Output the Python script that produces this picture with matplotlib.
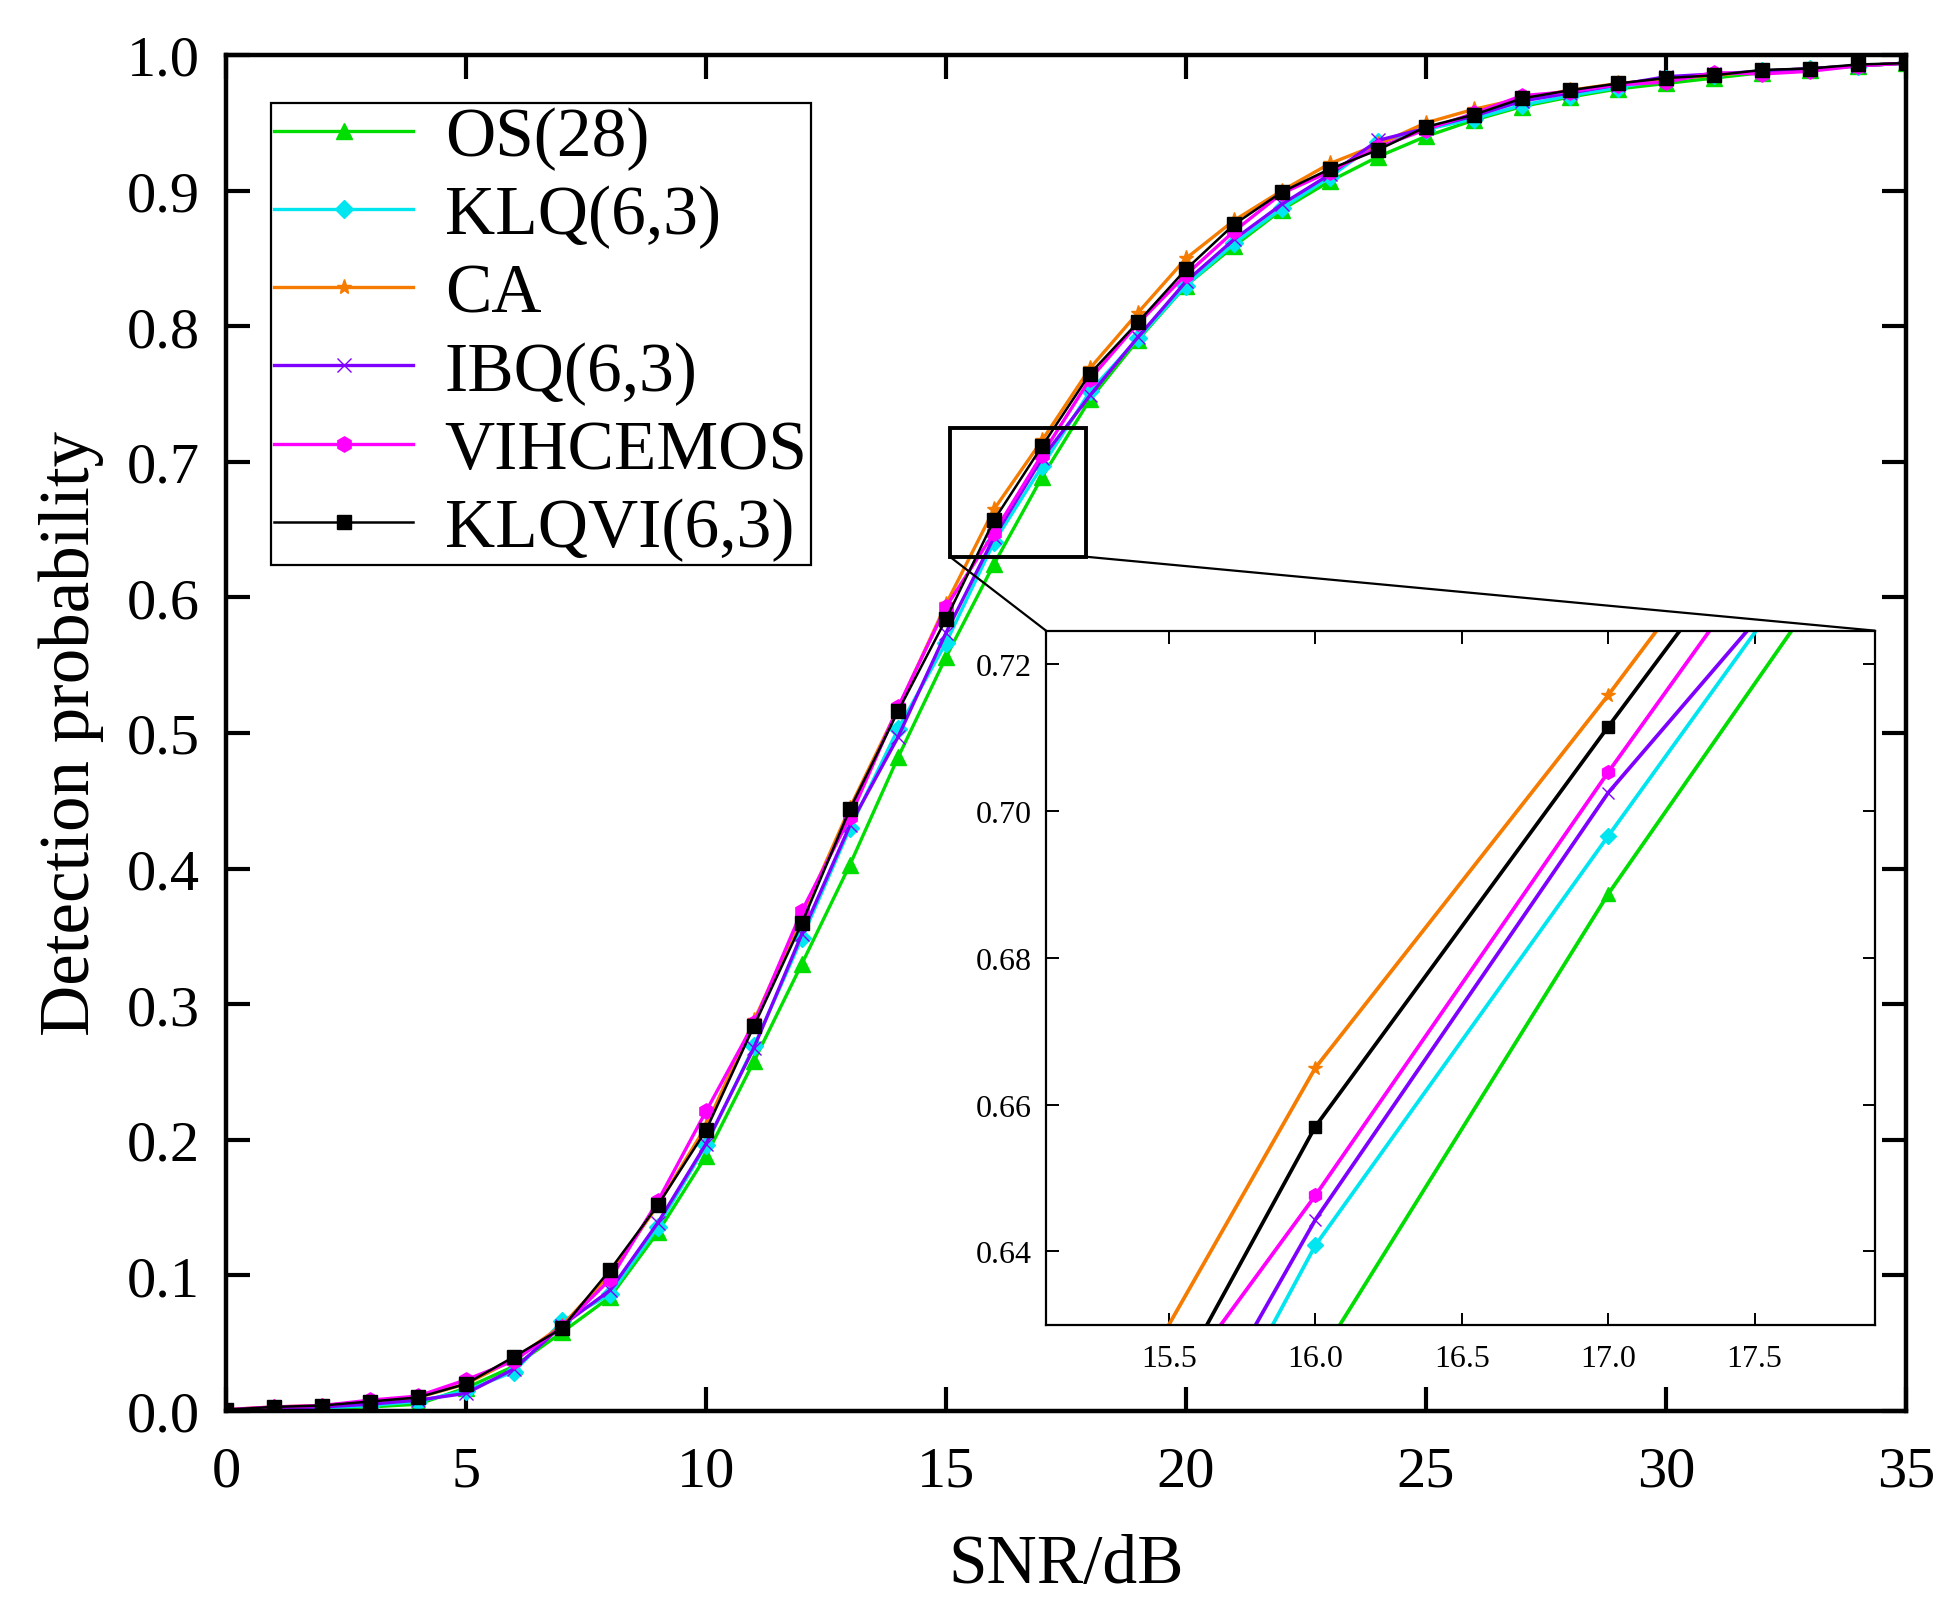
import matplotlib
matplotlib.use("Agg")
import matplotlib.pyplot as plt
from matplotlib.patches import Rectangle, ConnectionPatch
import numpy as np

plt.rcParams["font.family"] = ["Liberation Serif", "DejaVu Serif"]

# SNR points (dB)
snr = list(range(0, 36))

os28 = [0.0, 0.001, 0.002, 0.003, 0.005, 0.017, 0.033, 0.058, 0.084, 0.132,
        0.188, 0.258, 0.330, 0.403, 0.482, 0.556, 0.6246, 0.6887, 0.746, 0.790,
        0.830, 0.859, 0.886, 0.907, 0.925, 0.940, 0.952, 0.962, 0.969, 0.975,
        0.979, 0.983, 0.987, 0.989, 0.992, 0.994]
klq = [0.0, 0.001, 0.002, 0.004, 0.007, 0.015, 0.029, 0.066, 0.086, 0.136,
       0.196, 0.269, 0.349, 0.430, 0.503, 0.5665, 0.6408, 0.6966, 0.752, 0.791,
       0.830, 0.861, 0.887, 0.910, 0.936, 0.945, 0.953, 0.963, 0.970, 0.976,
       0.982, 0.985, 0.988, 0.990, 0.992, 0.994]
ca = [0.001, 0.003, 0.004, 0.007, 0.010, 0.020, 0.038, 0.063, 0.101, 0.152,
      0.210, 0.288, 0.365, 0.445, 0.518, 0.595, 0.665, 0.7158, 0.769, 0.810,
      0.850, 0.878, 0.900, 0.920, 0.934, 0.950, 0.960, 0.968, 0.974, 0.979,
      0.982, 0.985, 0.988, 0.990, 0.992, 0.994]
ibq = [0.0, 0.002, 0.003, 0.005, 0.008, 0.013, 0.031, 0.063, 0.089, 0.139,
       0.197, 0.268, 0.352, 0.432, 0.497, 0.574, 0.6443, 0.7025, 0.749, 0.792,
       0.833, 0.864, 0.890, 0.912, 0.937, 0.946, 0.955, 0.966, 0.972, 0.978,
       0.984, 0.986, 0.988, 0.990, 0.992, 0.994]
vihcemos = [0.001, 0.003, 0.004, 0.008, 0.011, 0.023, 0.037, 0.062, 0.097, 0.155,
            0.221, 0.286, 0.369, 0.438, 0.519, 0.593, 0.6476, 0.7053, 0.761, 0.802,
            0.838, 0.870, 0.898, 0.914, 0.932, 0.945, 0.957, 0.970, 0.973, 0.978,
            0.980, 0.987, 0.986, 0.988, 0.992, 0.994]
klqvi = [0.001, 0.003, 0.004, 0.007, 0.010, 0.020, 0.040, 0.061, 0.104, 0.152,
         0.207, 0.284, 0.360, 0.444, 0.516, 0.584, 0.657, 0.7115, 0.765, 0.803,
         0.842, 0.875, 0.899, 0.916, 0.930, 0.947, 0.956, 0.968, 0.974, 0.979,
         0.983, 0.985, 0.989, 0.990, 0.993, 0.994]

labels = ["OS(28)", "KLQ(6,3)", "CA", "IBQ(6,3)", "VIHCEMOS", "KLQVI(6,3)"]

main_xticks = [0, 5, 10, 15, 20, 25, 30, 35]
main_yticks = [0.0, 0.1, 0.2, 0.3, 0.4, 0.5, 0.6, 0.7, 0.8, 0.9, 1.0]
inset_xticks = [15.5, 16.0, 16.5, 17.0, 17.5]
inset_yticks = [0.64, 0.66, 0.68, 0.70, 0.72]
inset_xlim = (15.08, 17.91)
inset_ylim = (0.63, 0.7246)

# (color, marker, markersize, markeredgewidth, linewidth)
styles = [
    ("#00dd00", "^", 11, 1.0, 2.4),
    ("#00e6f0", "D", 9, 1.0, 2.4),
    ("#f57c00", "*", 11, 1.0, 2.4),
    ("#7f00ff", "x", 10, 1.0, 2.4),
    ("#ff00ff", "h", 11, 1.0, 2.4),
    ("black", "s", 10, 1.0, 1.8),
]


def draw_series(ax, series, inset=False):
    for y, lab, (c, m, ms, mew, lw) in zip(series, labels, styles):
        if inset:
            lw = 2.7
            ms = ms * 0.9
        ax.plot(snr, y, color=c, marker=m, markersize=ms, markeredgewidth=mew,
                markeredgecolor=c, markerfacecolor=c, linewidth=lw, label=lab)


def main():
    series = [os28, klq, ca, ibq, vihcemos, klqvi]

    fig = plt.figure(figsize=(19.54, 16.15), dpi=100)
    ax = fig.add_axes([0.11566, 0.12570, 0.8598, 0.83963])
    draw_series(ax, series)

    ax.set_xlim(0, 35)
    ax.set_ylim(0, 1.0)
    ax.set_xticks(main_xticks)
    ax.set_xticklabels([str(t) for t in main_xticks])
    ax.set_yticks(main_yticks)
    ax.set_yticklabels([f"{t:.1f}" for t in main_yticks])
    ax.tick_params(direction="in", length=17, width=3.0, labelsize=42,
                   top=True, right=True)
    ax.tick_params(axis="x", pad=25)
    ax.tick_params(axis="y", pad=19)
    for s in ax.spines.values():
        s.set_linewidth(3.2)
    ax.set_xlabel("SNR/dB", fontsize=50, labelpad=26)
    ax.set_ylabel("Detection probability", fontsize=51, labelpad=16)

    leg = ax.legend(loc="upper left", bbox_to_anchor=(0.0268, 0.9646),
                    fontsize=50, frameon=True, fancybox=False, framealpha=1,
                    edgecolor="black", borderpad=0.05, borderaxespad=0,
                    handlelength=2.0, handletextpad=0.45, labelspacing=0.21)
    leg.get_frame().set_linewidth(1.6)

    # zoom box on the main axes
    rect = Rectangle((inset_xlim[0], inset_ylim[0]),
                     inset_xlim[1] - inset_xlim[0], inset_ylim[1] - inset_ylim[0],
                     fill=False, edgecolor="black", linewidth=2.8, zorder=5)
    ax.add_patch(rect)

    axins = fig.add_axes([0.5353, 0.1792, 0.4241, 0.4297])
    draw_series(axins, series, inset=True)
    axins.set_xlim(*inset_xlim)
    axins.set_ylim(*inset_ylim)
    axins.set_xticks(inset_xticks)
    axins.set_xticklabels([f"{t:.1f}" for t in inset_xticks])
    axins.set_yticks(inset_yticks)
    axins.set_yticklabels([f"{t:.2f}" for t in inset_yticks])
    axins.tick_params(direction="in", length=9, width=1.4, labelsize=23,
                      top=True, right=True)
    axins.tick_params(axis="x", pad=14)
    axins.tick_params(axis="y", pad=10)
    for s in axins.spines.values():
        s.set_linewidth(1.6)

    for xa, xb in [(inset_xlim[0], (0, 1)), (inset_xlim[1], (1, 1))]:
        con = ConnectionPatch(xyA=(xa, inset_ylim[0]), coordsA=ax.transData,
                              xyB=xb, coordsB=axins.transAxes,
                              color="black", linewidth=1.6)
        fig.add_artist(con)

    fig.savefig("out.png", dpi=100)
    plt.close(fig)


if __name__ == "__main__":
    main()
